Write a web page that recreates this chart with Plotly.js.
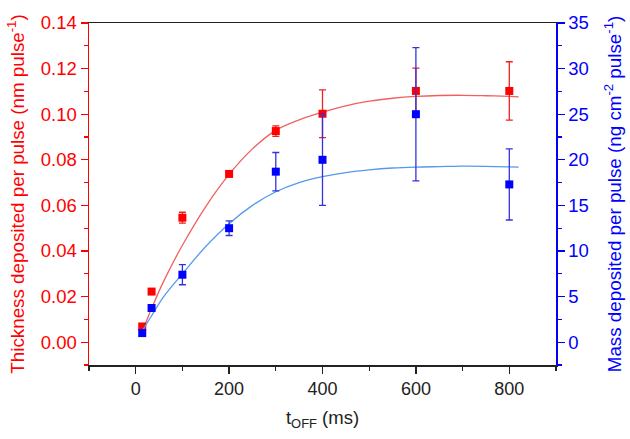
<!DOCTYPE html>
<html>
<head>
<meta charset="utf-8">
<script src="https://cdn.plot.ly/plotly-3.0.1.min.js"></script>
<style>html,body{margin:0;padding:0;background:#fff}#chart{width:630px;height:439px}</style>
</head>
<body>
<div id="chart"></div>
<script>
// Measured data: thickness (left axis)
const tOff = [14, 34, 100, 200, 300, 400, 600, 800];
const thickness = [0.0069, 0.0222, 0.0546, 0.0738, 0.0926, 0.1002, 0.1102, 0.1102];
const thicknessErr = [0.0008, 0.0008, 0.0024, 0.0008, 0.0023, 0.0105, 0.0100, 0.0128];
// Measured data: mass (right axis)
const mass = [1.0, 3.75, 7.4, 12.5, 18.7, 20.0, 25.0, 17.3];
const massErr = [0.3, 0.3, 1.1, 0.8, 2.1, 5.0, 7.3, 3.9];
// Fitted curves
const fitX = [15, 34, 60, 100, 150, 200, 250, 300, 350, 400, 450, 500, 550, 600, 650, 700, 750, 800, 820];
const fitThickness = [0.0051, 0.0148, 0.0268, 0.0425, 0.0595, 0.0736, 0.0848, 0.0929, 0.0975, 0.1009, 0.1037, 0.1057, 0.1070, 0.1078, 0.1082, 0.1083, 0.1081, 0.1078, 0.1076];
const fitMass = [1.3, 2.9, 5.0, 7.5, 10.5, 13.0, 15.0, 16.5, 17.5, 18.15, 18.6, 18.9, 19.1, 19.2, 19.25, 19.3, 19.28, 19.22, 19.2];

const RED = '#ff0000', BLUE = '#0000ff';
const FONT = 'Liberation Sans, Arial, sans-serif';

const traces = [
  {x: fitX, y: fitThickness, type: 'scatter', mode: 'lines', line: {color: '#f06060', width: 1.3, shape: 'spline', smoothing: 1}, yaxis: 'y', hoverinfo: 'skip'},
  {x: tOff, y: thickness, type: 'scatter', mode: 'markers', yaxis: 'y',
   marker: {symbol: 'square', size: 8, color: RED},
   error_y: {type: 'data', array: thicknessErr, visible: true, color: '#ee2222', thickness: 1.3, width: 3.5}},
  {x: fitX, y: fitMass, type: 'scatter', mode: 'lines', line: {color: '#5599ee', width: 1.3, shape: 'spline', smoothing: 1}, yaxis: 'y2', hoverinfo: 'skip'},
  {x: tOff, y: mass, type: 'scatter', mode: 'markers', yaxis: 'y2',
   marker: {symbol: 'square', size: 8, color: BLUE},
   error_y: {type: 'data', array: massErr, visible: true, color: '#3333dd', thickness: 1.3, width: 3.5}}
];

const layout = {
  width: 630, height: 439,
  margin: {l: 89, r: 74, t: 23, b: 74},
  showlegend: false,
  paper_bgcolor: '#fff', plot_bgcolor: '#fff',
  font: {family: FONT, size: 18, color: '#222'},
  xaxis: {
    range: [-100, 900], dtick: 200, tick0: 0,
    showgrid: false, zeroline: false,
    showline: true, linecolor: '#222', linewidth: 1.5, mirror: true,
    ticks: 'outside', ticklen: 7, tickwidth: 1.3, tickcolor: '#222',
    minor: {dtick: 100, tick0: 0, ticks: 'outside', ticklen: 4, tickcolor: '#222', tickwidth: 1.3},
    tickfont: {size: 18, color: '#222'},
    title: {text: 't<sub>OFF</sub> (ms)', font: {size: 18.5, color: '#222'}, standoff: 13}
  },
  yaxis: {
    range: [-0.01, 0.14], dtick: 0.02, tick0: 0, tickformat: '.2f',
    showgrid: false, zeroline: false,
    showline: true, linecolor: RED, linewidth: 1.5,
    ticks: 'outside', ticklen: 7, tickwidth: 1.3, tickcolor: RED,
    minor: {dtick: 0.01, tick0: 0, ticks: 'outside', ticklen: 4, tickcolor: RED, tickwidth: 1.3},
    tickfont: {size: 18.5, color: RED},
    title: {text: 'Thickness deposited per pulse (nm pulse<sup>-1</sup>)', font: {size: 18.8, color: RED}, standoff: 11}
  },
  yaxis2: {
    overlaying: 'y', side: 'right',
    range: [-2.5, 35], dtick: 5, tick0: 0,
    showgrid: false, zeroline: false,
    showline: true, linecolor: BLUE, linewidth: 1.5,
    ticks: 'outside', ticklen: 7, tickwidth: 1.3, tickcolor: BLUE,
    minor: {dtick: 2.5, tick0: 0, ticks: 'outside', ticklen: 4, tickcolor: BLUE, tickwidth: 1.3},
    tickfont: {size: 18.5, color: BLUE},
    title: {text: 'Mass deposited per pulse (ng cm<sup>-2</sup> pulse<sup>-1</sup>)', font: {size: 18.8, color: BLUE}, standoff: 20}
  }
};

Plotly.newPlot('chart', traces, layout, {displayModeBar: false, staticPlot: true});
</script>
</body>
</html>
